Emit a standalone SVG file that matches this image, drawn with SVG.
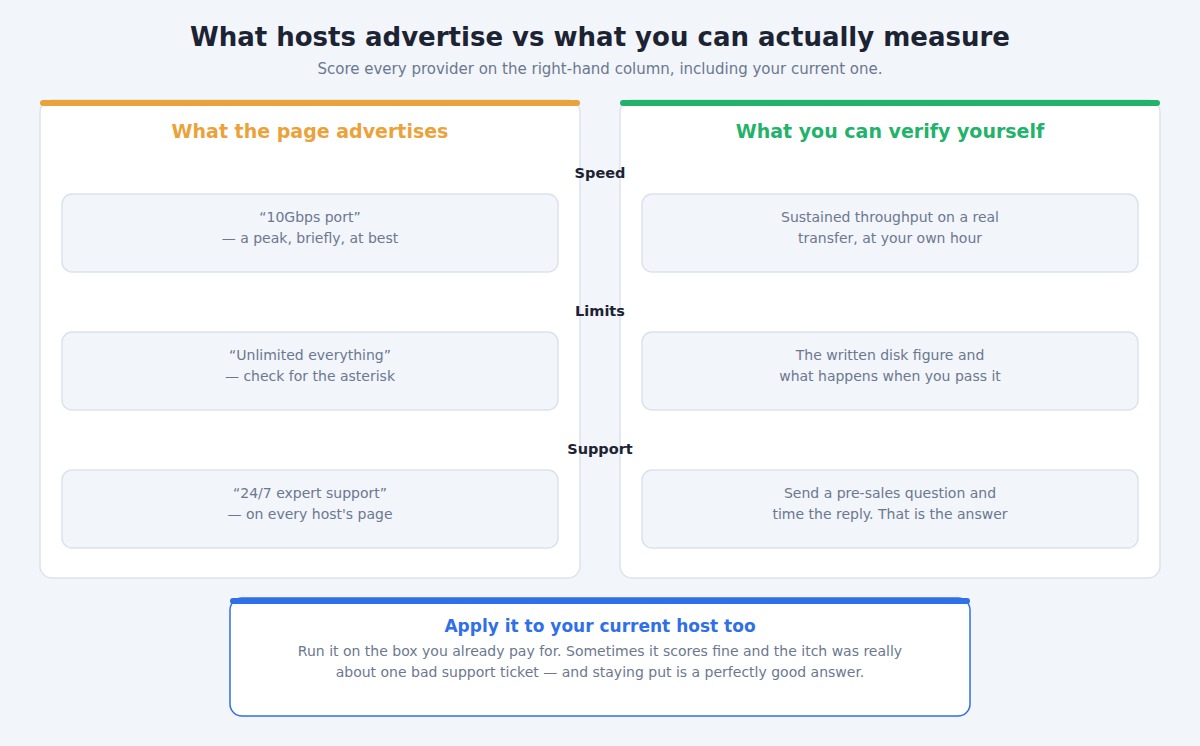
<svg xmlns="http://www.w3.org/2000/svg" width="1200" height="746" viewBox="0 0 1200 746">
<style>
text{font-family:"DejaVu Sans",sans-serif;text-anchor:middle}
.panel{fill:#fff;stroke:#dde3ee;stroke-width:1.5}
.box{fill:#f2f5fa;stroke:#dbe2ee;stroke-width:1.5}
.bt{font-size:14px;fill:#6b7890}
.lab{font-size:14.5px;font-weight:bold;fill:#1c2333}
.ph{font-size:19px;font-weight:bold}
</style>
<rect width="1200" height="746" fill="#f2f5fa"/>
<text x="600" y="46" font-size="26" font-weight="bold" fill="#1c2333">What hosts advertise vs what you can actually measure</text>
<text x="600" y="74" font-size="15" fill="#6b7890">Score every provider on the right-hand column, including your current one.</text>
<g id="left">
<rect class="panel" x="40" y="100" width="540" height="478" rx="12"/>
<rect x="40" y="100" width="540" height="6" rx="3" fill="#eba23a"/>
<text class="ph" x="310" y="138" fill="#eba23a">What the page advertises</text>
</g>
<g id="right">
<rect class="panel" x="620" y="100" width="540" height="478" rx="12"/>
<rect x="620" y="100" width="540" height="6" rx="3" fill="#22b26a"/>
<text class="ph" x="890" y="138" fill="#22b26a">What you can verify yourself</text>
</g>
<g id="labels">
<text class="lab" x="600" y="178">Speed</text>
<text class="lab" x="600" y="316">Limits</text>
<text class="lab" x="600" y="454">Support</text>
</g>
<g id="l1"><rect class="box" x="62" y="194" width="496" height="78" rx="10"/><text class="bt" x="310" y="222">“10Gbps port”</text><text class="bt" x="310" y="243">— a peak, briefly, at best</text></g>
<g id="l2"><rect class="box" x="62" y="332" width="496" height="78" rx="10"/><text class="bt" x="310" y="360">“Unlimited everything”</text><text class="bt" x="310" y="381">— check for the asterisk</text></g>
<g id="l3"><rect class="box" x="62" y="470" width="496" height="78" rx="10"/><text class="bt" x="310" y="498">“24/7 expert support”</text><text class="bt" x="310" y="519">— on every host's page</text></g>
<g id="r1"><rect class="box" x="642" y="194" width="496" height="78" rx="10"/><text class="bt" x="890" y="222">Sustained throughput on a real</text><text class="bt" x="890" y="243">transfer, at your own hour</text></g>
<g id="r2"><rect class="box" x="642" y="332" width="496" height="78" rx="10"/><text class="bt" x="890" y="360">The written disk figure and</text><text class="bt" x="890" y="381">what happens when you pass it</text></g>
<g id="r3"><rect class="box" x="642" y="470" width="496" height="78" rx="10"/><text class="bt" x="890" y="498">Send a pre-sales question and</text><text class="bt" x="890" y="519">time the reply. That is the answer</text></g>
<g id="connectors"/>
<g id="bottom">
<rect x="230" y="598" width="740" height="118" rx="12" fill="#fff" stroke="#2f6fe8" stroke-width="1.5"/>
<rect x="230" y="598" width="740" height="6" rx="3" fill="#2f6fe8"/>
<text x="600" y="632" font-size="17" font-weight="bold" fill="#2f6fe8">Apply it to your current host too</text>
<text class="bt" x="600" y="656" font-size="13.5">Run it on the box you already pay for. Sometimes it scores fine and the itch was really</text>
<text class="bt" x="600" y="677" font-size="13.5">about one bad support ticket — and staying put is a perfectly good answer.</text>
</g>
</svg>
